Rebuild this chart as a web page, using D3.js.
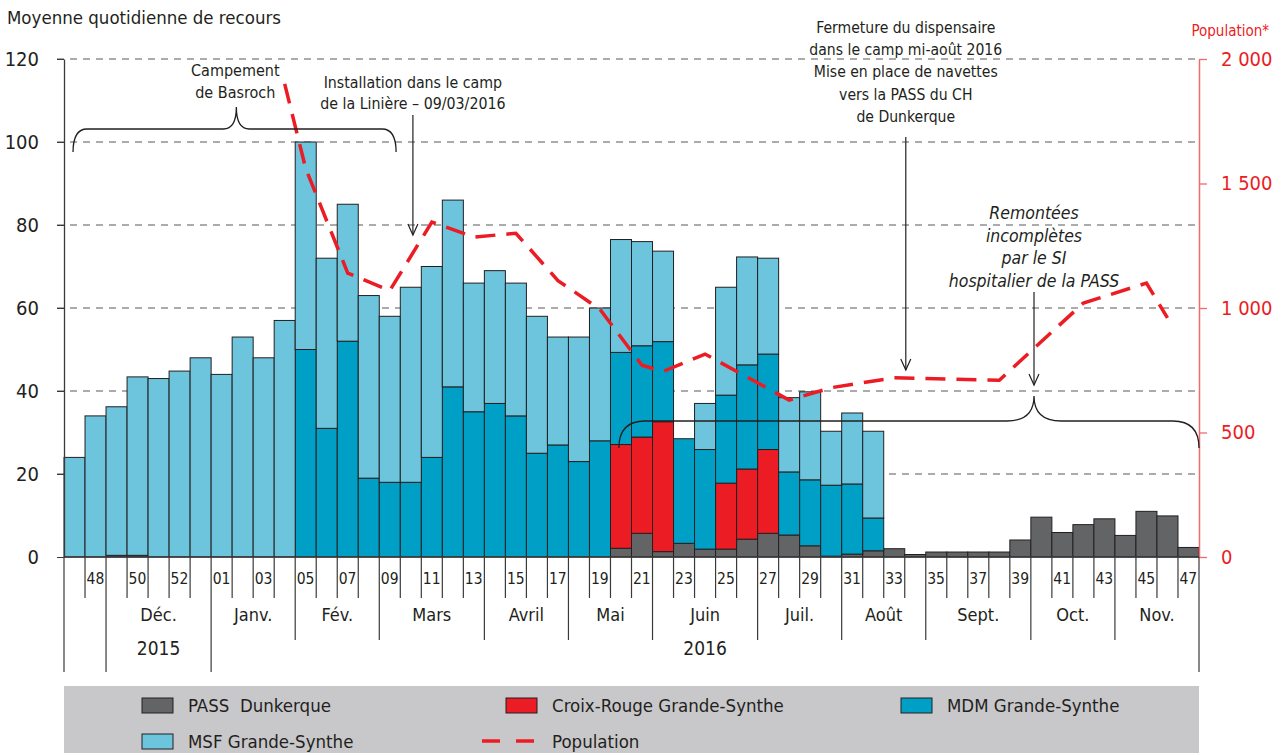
<!DOCTYPE html>
<html>
<head>
<meta charset="utf-8">
<script src="https://cdn.jsdelivr.net/npm/d3@7"></script>
<style>
  body { margin: 0; background: #fff; }
  svg text { font-family: "DejaVu Sans Condensed", "Liberation Sans Narrow", sans-serif; fill: #231f20; }
</style>
</head>
<body>
<svg id="chart" width="1275" height="753"></svg>
<script>
// ---- data ----
const weekLabels = ["47","48","49","50","51","52","53",
  "01","02","03","04","05","06","07","08","09","10","11","12","13","14","15","16","17","18","19","20",
  "21","22","23","24","25","26","27","28","29","30","31","32","33","34","35","36","37","38","39","40",
  "41","42","43","44","45","46","47"];

// daily average per week, by structure
const pass = [0,0,0.4,0.4,0,0,0, 0,0,0,0,0,0,0,0,0,0,0,0,0,0,0,0,0,0,0,2.1,
  5.7,1.3,3.3,1.9,1.9,4.3,5.7,5.3,2.7,0.2,0.7,1.5,2.0,0.6,1.2,1.2,1.2,1.2,4.1,9.6,
  5.9,7.8,9.2,5.2,11.0,9.9,2.3];
const croixRouge = [0,0,0,0,0,0,0, 0,0,0,0,0,0,0,0,0,0,0,0,0,0,0,0,0,0,0,25.0,
  23.2,31.3,0,0,15.9,16.9,20.2,0,0,0,0,0,0,0,0,0,0,0,0,0,
  0,0,0,0,0,0,0];
const mdm = [0,0,0,0,0,0,0, 0,0,0,0,50,31,52,19,18,18,24,41,35,37,34,25,27,23,28,22.2,
  22.0,19.3,25.2,24.0,21.2,25.1,23.0,15.2,15.9,17.1,16.9,7.9,0,0,0,0,0,0,0,0,
  0,0,0,0,0,0,0];
const msf = [24,34,35.8,43,43,44.8,48, 44,53,48,57,50,41,33,44,40,47,46,45,31,32,32,33,26,30,32,27.2,
  25.1,21.8,0,11.1,26.0,26.0,23.1,17.9,21.2,13.0,17.1,20.9,0,0,0,0,0,0,0,0,
  0,0,0,0,0,0,0];

// population (right axis), null where no point
const population = [null,null,null,null,null,null,null,
  null,null,null,1900,1560,null,1140,null,1070,null,1345,null,1285,null,1300,null,1110,null,995,null,
  770,745,null,815,null,null,null,630,null,680,null,null,720,null,null,null,null,710,null,null,
  null,1020,null,null,1100,960,null];

const monthNames = ["Déc.","Janv.","Fév.","Mars","Avril","Mai","Juin","Juil.","Août","Sept.","Oct.","Nov."];
const monthStart = [2,7,11,15,20,24,28,33,37,41,46,50,54];
const yearNames = ["2015","2016"];
const yearStart = [2,7,54];

const leftTicks = [0,20,40,60,80,100,120];
const rightTicks = [0,500,1000,1500,2000];

// ---- setup ----
const svg = d3.select("#chart");
const L = 64, R = 1199, T = 59, B = 557;
const n = weekLabels.length;
const idx = d3.range(n);

const x = d3.scaleBand().domain(idx).range([L, R]).padding(0);
const xi = d3.scaleLinear().domain([0, n]).range([L, R]); // fractional week positions
const y = d3.scaleLinear().domain([0, 120]).range([B, T]);
const yp = d3.scaleLinear().domain([0, 2000]).range([B, T]);

const colors = { pass: "#636466", croixRouge: "#ec1c24", mdm: "#00a0c6", msf: "#6cc5dd" };
const red = "#ec1c24";
const ink = "#231f20";
const FONT = '"DejaVu Sans Condensed", sans-serif';

// grid lines
svg.append("g").selectAll("line")
  .data(leftTicks.filter(d => d > 0))
  .join("line")
  .attr("x1", L - 7).attr("x2", R)
  .attr("y1", d => y(d)).attr("y2", d => y(d))
  .attr("stroke", "#58595b").attr("stroke-width", 1.2)
  .attr("stroke-dasharray", "7,6");

// stacked bars
const rows = idx.map(i => ({ i, pass: pass[i], croixRouge: croixRouge[i], mdm: mdm[i], msf: msf[i] }));
const keys = ["pass", "croixRouge", "mdm", "msf"];
const stacked = d3.stack().keys(keys)(rows);

svg.append("g").selectAll("g")
  .data(stacked)
  .join("g")
  .attr("fill", d => colors[d.key])
  .selectAll("rect")
  .data(d => d.filter(s => s[1] - s[0] > 0))
  .join("rect")
  .attr("x", d => x(d.data.i))
  .attr("width", x.bandwidth())
  .attr("y", d => y(d[1]))
  .attr("height", d => y(d[0]) - y(d[1]))
  .attr("stroke", ink).attr("stroke-width", 1);

// left axis
const yAxis = svg.append("g")
  .attr("transform", `translate(${L},0)`)
  .call(d3.axisLeft(y).tickValues(leftTicks).tickSize(7).tickSizeOuter(0).tickPadding(18));
yAxis.select(".domain").attr("stroke", "#3a3a3a").attr("stroke-width", 1.3);
yAxis.selectAll(".tick line").attr("stroke", "#3a3a3a");
yAxis.selectAll(".tick text").attr("font-size", 20).attr("fill", ink).style("font-family", FONT);

// right axis
const fmt = d => d3.format(",")(d).replace(/,/g, " ");
const ypAxis = svg.append("g")
  .attr("transform", `translate(${R},0)`)
  .call(d3.axisRight(yp).tickValues(rightTicks).tickFormat(fmt).tickSize(8).tickSizeOuter(0).tickPadding(14));
ypAxis.select(".domain").attr("stroke", "#ee6b72").attr("stroke-width", 1.5);
ypAxis.selectAll(".tick line").attr("stroke", "#ee6b72").attr("stroke-width", 1.3);
ypAxis.selectAll(".tick text").attr("font-size", 20).attr("fill", red).style("fill", red).style("font-family", FONT);

// baseline
svg.append("line").attr("x1", L).attr("x2", R).attr("y1", B).attr("y2", B)
  .attr("stroke", "#3a3a3a").attr("stroke-width", 1.3);

// x axis: week ticks, months, years
const xg = svg.append("g").attr("stroke", "#3a3a3a").attr("stroke-width", 1.2);
xg.selectAll("line.wk")
  .data(d3.range(n + 1))
  .join("line")
  .attr("x1", d => xi(d)).attr("x2", d => xi(d))
  .attr("y1", B).attr("y2", d => (d === 0 || yearStart.includes(d)) ? 672 : monthStart.includes(d) ? 640 : 598);

svg.append("g").selectAll("text")
  .data(idx.filter(i => i % 2 === 1))
  .join("text")
  .attr("x", i => x(i) + 1.5)
  .attr("y", 584)
  .attr("font-size", 15.5)
  .text(i => weekLabels[i]);

svg.append("g").selectAll("text")
  .data(monthNames)
  .join("text")
  .attr("x", (d, k) => (xi(monthStart[k]) + xi(monthStart[k + 1])) / 2)
  .attr("y", 621)
  .attr("text-anchor", "middle")
  .attr("font-size", 18)
  .text(d => d);

svg.append("g").selectAll("text")
  .data(yearNames)
  .join("text")
  .attr("x", (d, k) => (xi(yearStart[k]) + xi(yearStart[k + 1])) / 2)
  .attr("y", 655)
  .attr("text-anchor", "middle")
  .attr("font-size", 19)
  .text(d => d);

// population line
const popPts = idx.filter(i => population[i] != null).map(i => [x(i) + x.bandwidth() / 2, yp(population[i])]);
svg.append("path")
  .attr("d", d3.line()(popPts))
  .attr("fill", "none")
  .attr("stroke", red).attr("stroke-width", 3.5)
  .attr("stroke-dasharray", "20,11");

// titles
svg.append("text").attr("x", 7).attr("y", 24).attr("font-size", 18.5).text("Moyenne quotidienne de recours");
svg.append("text").attr("x", 1269).attr("y", 36).attr("font-size", 15).attr("text-anchor", "end")
  .style("fill", red).text("Population*");

// ---- annotations ----
const ann = svg.append("g");

function multiline(cx, y0, lines, step, size, italic) {
  const t = ann.append("text").attr("text-anchor", "middle").attr("font-size", size);
  if (italic) t.attr("font-style", "italic");
  lines.forEach((s, k) => t.append("tspan").attr("x", cx).attr("y", y0 + k * step).text(s));
}

function arrow(ax, y1, y2) {
  ann.append("line").attr("x1", ax).attr("x2", ax).attr("y1", y1).attr("y2", y2)
    .attr("stroke", ink).attr("stroke-width", 1.2);
  ann.append("path").attr("d", `M${ax - 5},${y2 - 11}L${ax},${y2}L${ax + 5},${y2 - 11}`)
    .attr("fill", "none").attr("stroke", ink).attr("stroke-width", 1.2);
}

// horizontal curly brace, tip pointing up
function brace(x1, x2, yb, tipX, tipH, tipW, endW, endH) {
  const p = d3.path();
  p.moveTo(x1, yb + endH);
  p.quadraticCurveTo(x1, yb, x1 + endW, yb);
  p.lineTo(tipX - tipW, yb);
  p.quadraticCurveTo(tipX, yb, tipX, yb - tipH);
  p.quadraticCurveTo(tipX, yb, tipX + tipW, yb);
  p.lineTo(x2 - endW, yb);
  p.quadraticCurveTo(x2, yb, x2, yb + endH);
  ann.append("path").attr("d", p.toString()).attr("fill", "none")
    .attr("stroke", ink).attr("stroke-width", 1.3);
}

multiline(xi(8.15), 76, ["Campement", "de Basroch"], 22, 16);
brace(xi(0.43), xi(15.8), 129, xi(8.2), 22, 13, 14, 23);

multiline(xi(16.6), 88, ["Installation dans le camp", "de la Linière – 09/03/2016"], 21, 15.8);
arrow(xi(16.6), 115, 235);

multiline(xi(40.05), 33, ["Fermeture du dispensaire", "dans le camp mi-août 2016",
  "Mise en place de navettes", "vers la PASS du CH", "de Dunkerque"], 22.2, 15.6);
arrow(xi(40.05), 137, 370);

multiline(xi(46.15), 219, ["Remontées", "incomplètes", "par le SI", "hospitalier de la PASS"], 22.5, 17.5, true);
arrow(xi(46.15), 292, 385);
brace(xi(26.4), xi(54), 421, xi(46.15), 25, 27, 26, 27);

// ---- legend ----
const lg = svg.append("g");
lg.append("rect").attr("x", L).attr("y", 686).attr("width", R - L).attr("height", 67).attr("fill", "#c8c8ca");

const legendItems = [
  { key: "pass", label: "PASS\u00a0\u00a0Dunkerque", lx: 142, ly: 698 },
  { key: "croixRouge", label: "Croix-Rouge Grande-Synthe", lx: 506, ly: 698 },
  { key: "mdm", label: "MDM Grande-Synthe", lx: 901, ly: 698 },
  { key: "msf", label: "MSF Grande-Synthe", lx: 142, ly: 734 }
];
legendItems.forEach(d => {
  lg.append("rect").attr("x", d.lx).attr("y", d.ly).attr("width", 31).attr("height", 15)
    .attr("fill", colors[d.key]).attr("stroke", ink).attr("stroke-width", 1);
  lg.append("text").attr("x", d.lx + 46).attr("y", d.ly + 14).attr("font-size", 18.5).text(d.label);
});
lg.append("line").attr("x1", 482).attr("x2", 537).attr("y1", 741).attr("y2", 741)
  .attr("stroke", red).attr("stroke-width", 3.5).attr("stroke-dasharray", "18,16");
lg.append("text").attr("x", 552).attr("y", 748).attr("font-size", 18.5).text("Population");
</script>
</body>
</html>
